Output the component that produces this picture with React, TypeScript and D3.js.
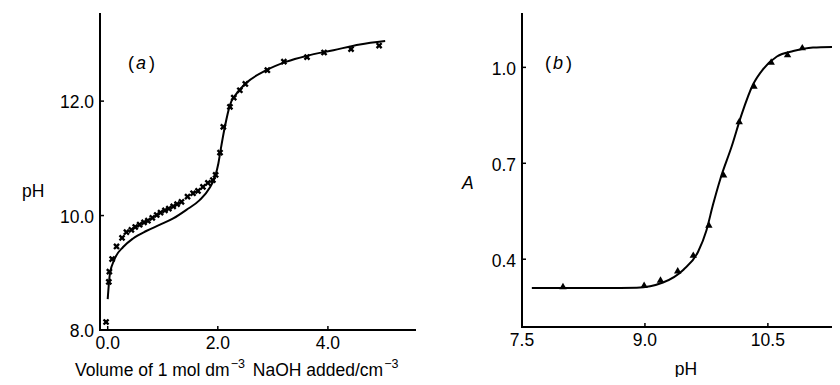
import { useEffect, useRef } from "react"
import * as d3 from "d3"

// panel (a): titration curve, pH vs volume of NaOH
const aPointsVol = [-0.03, 0.02, 0.03, 0.08, 0.16, 0.26, 0.34, 0.43, 0.5, 0.58, 0.66, 0.73, 0.81, 0.89, 0.96, 1.04, 1.11, 1.19, 1.26, 1.34, 1.45, 1.55, 1.64, 1.73, 1.82, 1.91, 1.96, 2.04, 2.1, 2.22, 2.29, 2.4, 2.5, 2.9, 3.2, 3.62, 3.93, 4.42, 4.93]
const aPointsPH = [8.14, 8.84, 9.02, 9.24, 9.46, 9.61, 9.71, 9.75, 9.8, 9.84, 9.88, 9.91, 9.96, 10.01, 10.05, 10.09, 10.12, 10.16, 10.2, 10.24, 10.33, 10.39, 10.43, 10.5, 10.57, 10.62, 10.71, 11.1, 11.55, 11.9, 12.06, 12.19, 12.3, 12.54, 12.69, 12.77, 12.85, 12.91, 12.97]
const aLineVol = [0.0, 0.04, 0.13, 0.28, 0.46, 0.7, 0.95, 1.19, 1.43, 1.67, 1.85, 1.95, 2.01, 2.05, 2.13, 2.22, 2.34, 2.52, 2.88, 3.25, 3.61, 4.1, 4.58, 5.04]
const aLinePH = [8.54, 8.98, 9.25, 9.45, 9.6, 9.73, 9.84, 9.95, 10.1, 10.27, 10.48, 10.68, 10.91, 11.14, 11.56, 11.93, 12.13, 12.32, 12.54, 12.69, 12.79, 12.89, 12.99, 13.05]
const aXTicks = [0, 2, 4]
const aYTicks = [8, 10, 12]

// panel (b): absorbance vs pH
const bPointsPH = [8.0, 8.99, 9.19, 9.4, 9.59, 9.78, 9.96, 10.15, 10.33, 10.54, 10.74, 10.92]
const bPointsA = [0.313, 0.317, 0.333, 0.362, 0.411, 0.505, 0.662, 0.829, 0.94, 1.015, 1.038, 1.06]
const bLinePH = [7.62, 8.5, 8.9, 9.22, 9.47, 9.65, 9.75, 9.83, 9.92, 10.06, 10.18, 10.32, 10.44, 10.61, 10.81, 11.05, 11.3]
const bLineA = [0.31, 0.31, 0.311, 0.327, 0.367, 0.424, 0.49, 0.57, 0.651, 0.754, 0.853, 0.947, 0.994, 1.034, 1.051, 1.062, 1.064]
const bXTicks = [7.5, 9.0, 10.5]
const bYTicks = [0.4, 0.7, 1.0]

const W = 840
const H = 385
const FONT = "'Liberation Sans', Arial, Helvetica, sans-serif"

export default function App() {
  const svgRef = useRef<SVGSVGElement>(null)

  useEffect(() => {
    if (!svgRef.current) return
    const svg = d3.select(svgRef.current)
    svg.selectAll("*").remove()

    const panel = (opts: {
      x: d3.ScaleLinear<number, number>
      y: d3.ScaleLinear<number, number>
      xTicks: number[]
      yTicks: number[]
      ptsX: number[]
      ptsY: number[]
      lineX: number[]
      lineY: number[]
      symbol: d3.SymbolType
      symSize: number
      rotate: number
    }) => {
      const { x, y } = opts
      const g = svg.append("g")
      const [x0, x1] = x.range()
      const [y0, y1] = y.range()

      // axes
      g.append("line").attr("x1", x0).attr("x2", x0).attr("y1", y0).attr("y2", y1)
        .attr("stroke", "#000").attr("stroke-width", 2)
      g.append("line").attr("x1", x0 - 1).attr("x2", x1).attr("y1", y0).attr("y2", y0)
        .attr("stroke", "#000").attr("stroke-width", 2)

      opts.yTicks.forEach(t => {
        g.append("line").attr("x1", x0).attr("x2", x0 + 4).attr("y1", y(t)).attr("y2", y(t))
          .attr("stroke", "#000").attr("stroke-width", 1.5)
        g.append("text").attr("x", x0 - 6).attr("y", y(t)).attr("dy", "0.42em")
          .attr("text-anchor", "end").attr("font-size", 17.5).attr("font-family", FONT)
          .text(t.toFixed(1))
      })
      opts.xTicks.forEach(t => {
        g.append("line").attr("x1", x(t)).attr("x2", x(t)).attr("y1", y0).attr("y2", y0 - 4)
          .attr("stroke", "#000").attr("stroke-width", 1.5)
        g.append("text").attr("x", x(t)).attr("y", y0 + 19)
          .attr("text-anchor", "middle").attr("font-size", 17.5).attr("font-family", FONT)
          .text(t.toFixed(1))
      })

      // fitted curve
      const pts = opts.lineX.map((v, i) => [v, opts.lineY[i]] as [number, number])
      const line = d3.line<[number, number]>()
        .x(d => x(d[0])).y(d => y(d[1]))
        .curve(d3.curveMonotoneX)
      g.append("path").datum(pts).attr("d", line)
        .attr("fill", "none").attr("stroke", "#000").attr("stroke-width", 2)

      // measured points
      const sym = d3.symbol().type(opts.symbol).size(opts.symSize)
      opts.ptsX.forEach((v, i) => {
        g.append("path").attr("d", sym()!)
          .attr("transform", `translate(${x(v)},${y(opts.ptsY[i])}) rotate(${opts.rotate})`)
          .attr("fill", "#000")
      })
    }

    const xA = d3.scaleLinear().domain([-0.14, 5.6]).range([100, 416])
    const yA = d3.scaleLinear().domain([8, 13.54]).range([330, 13])
    panel({
      x: xA, y: yA, xTicks: aXTicks, yTicks: aYTicks,
      ptsX: aPointsVol, ptsY: aPointsPH, lineX: aLineVol, lineY: aLinePH,
      symbol: d3.symbolCross, symSize: 28, rotate: 45
    })

    const xB = d3.scaleLinear().domain([7.5, 11.38]).range([522, 840])
    const yB = d3.scaleLinear().domain([0.188, 1.17]).range([327, 13])
    panel({
      x: xB, y: yB, xTicks: bXTicks, yTicks: bYTicks,
      ptsX: bPointsPH, ptsY: bPointsA, lineX: bLinePH, lineY: bLineA,
      symbol: d3.symbolTriangle, symSize: 24, rotate: 0
    })

    // labels
    const lab = (x: number, y: number, s: string, anchor = "start", italic = false) =>
      svg.append("text").attr("x", x).attr("y", y).attr("text-anchor", anchor)
        .attr("font-size", 17.5).attr("font-family", FONT)
        .attr("font-style", italic ? "italic" : "normal").text(s)

    const tag = (x: number, s: string) => {
      const t = svg.append("text").attr("x", x).attr("y", 69).attr("font-size", 18).attr("font-family", FONT)
      t.append("tspan").text("(")
      t.append("tspan").attr("dx", 2).attr("font-style", "italic").text(s)
      t.append("tspan").attr("dx", 3).text(")")
    }
    tag(128, "a")
    tag(545, "b")

    lab(22, 197, "pH")
    lab(462, 189, "A", "start", true)
    lab(686, 375, "pH", "middle")

    const xl = svg.append("text").attr("x", 75).attr("y", 376).attr("font-size", 17.5).attr("font-family", FONT)
    xl.append("tspan").text("Volume of 1 mol dm")
    xl.append("tspan").attr("dx", 1).attr("dy", -8).attr("font-size", 12.5).text("−3")
    xl.append("tspan").attr("dx", 3).attr("dy", 8).text(" NaOH added/cm")
    xl.append("tspan").attr("dx", 1).attr("dy", -8).attr("font-size", 12.5).text("−3")
  }, [])

  return (
    <div style={{ margin: -8, width: W, height: H, background: "#fff" }}>
      <svg ref={svgRef} width={W} height={H} style={{ display: "block" }} />
    </div>
  )
}
